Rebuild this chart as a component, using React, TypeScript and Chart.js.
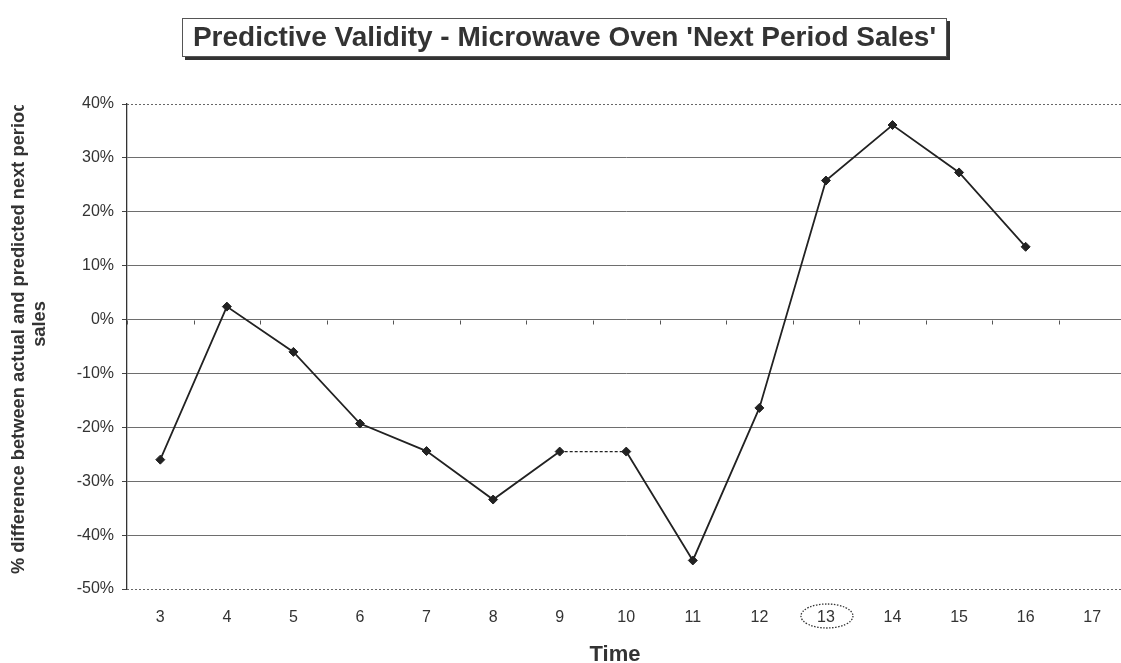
import React, { useEffect, useRef } from 'react';
import { Chart, registerables } from 'chart.js';

Chart.register(...registerables);

// Time periods on the category axis
const periods = ['3', '4', '5', '6', '7', '8', '9', '10', '11', '12', '13', '14', '15', '16', '17'];
// % difference between actual and predicted next-period sales (period 17 has no value)
const percentDifference = [-26.0, 2.4, -6.0, -19.3, -24.4, -33.4, -24.5, -24.5, -44.7, -16.4, 25.8, 36.1, 27.3, 13.5, null];
// value axis range and step, in percent
const yMin = -50;
const yMax = 40;
const yStep = 10;

const chartTitle = "Predictive Validity - Microwave Oven 'Next Period Sales'";
const yTitleLines = ['% difference between actual and predicted next period', 'sales'];
const xTitle = 'Time';
const circledPeriod = '13';

const FONT = '"Liberation Sans", Arial, sans-serif';

const decorations = {
  id: 'decorations',
  afterDraw(chart: any) {
    const { ctx, chartArea, scales } = chart;
    const x = scales.x;
    const y = scales.y;

    ctx.save();
    // dotted plot-area border at top and bottom
    ctx.strokeStyle = '#666';
    ctx.lineWidth = 1;
    ctx.setLineDash([2, 2]);
    for (const v of [yMax, yMin]) {
      const py = Math.round(y.getPixelForValue(v)) + 0.5;
      ctx.beginPath();
      ctx.moveTo(chartArea.left, py);
      ctx.lineTo(chartArea.right, py);
      ctx.stroke();
    }
    ctx.setLineDash([]);

    // category tick marks hanging below the 0% line
    const y0 = Math.round(y.getPixelForValue(0)) + 0.5;
    const step = x.getPixelForValue(1) - x.getPixelForValue(0);
    ctx.strokeStyle = '#555';
    for (let i = 0; i <= periods.length; i++) {
      const px = Math.round(x.getPixelForValue(0) - step / 2 + i * step) + 0.5;
      ctx.beginPath();
      ctx.moveTo(px, y0);
      ctx.lineTo(px, y0 + 4);
      ctx.stroke();
    }

    // chart title in a box with a drop shadow
    const bx = 182, by = 18, bw = 765, bh = 39;
    ctx.fillStyle = '#333';
    ctx.fillRect(bx + 3, by + 3, bw, bh);
    ctx.fillStyle = '#fff';
    ctx.fillRect(bx, by, bw, bh);
    ctx.strokeStyle = '#555';
    ctx.lineWidth = 1;
    ctx.strokeRect(bx + 0.5, by + 0.5, bw - 1, bh - 1);
    ctx.fillStyle = '#333';
    ctx.font = `bold 28px ${FONT}`;
    ctx.textAlign = 'center';
    ctx.textBaseline = 'middle';
    ctx.fillText(chartTitle, bx + bw / 2, by + bh / 2 + 1);

    // rotated value-axis title, clipped at the top of the plot
    ctx.save();
    ctx.beginPath();
    ctx.rect(0, 105, 60, 560);
    ctx.clip();
    ctx.font = `bold 18.3px ${FONT}`;
    ctx.fillStyle = '#333';
    ctx.translate(19, 574);
    ctx.rotate(-Math.PI / 2);
    ctx.textAlign = 'left';
    ctx.textBaseline = 'middle';
    ctx.fillText(yTitleLines[0], 0, 0);
    ctx.restore();
    ctx.save();
    ctx.font = `bold 18.3px ${FONT}`;
    ctx.fillStyle = '#333';
    ctx.translate(40, 324);
    ctx.rotate(-Math.PI / 2);
    ctx.textAlign = 'center';
    ctx.textBaseline = 'middle';
    ctx.fillText(yTitleLines[1], 0, 0);
    ctx.restore();

    // category-axis title
    ctx.font = `bold 22px ${FONT}`;
    ctx.fillStyle = '#333';
    ctx.textAlign = 'center';
    ctx.textBaseline = 'alphabetic';
    ctx.fillText(xTitle, 615, 661);

    // dotted ellipse around one category label
    const ci = periods.indexOf(circledPeriod);
    const cx = x.getPixelForValue(ci);
    ctx.strokeStyle = '#333';
    ctx.lineWidth = 1.3;
    ctx.setLineDash([1.5, 1.5]);
    ctx.beginPath();
    ctx.ellipse(cx + 1, 616, 26, 12, 0, 0, Math.PI * 2);
    ctx.stroke();
    ctx.restore();
  },
};

export default function App() {
  const canvasRef = useRef<HTMLCanvasElement | null>(null);

  useEffect(() => {
    const canvas = canvasRef.current;
    if (!canvas) return;
    const chart = new Chart(canvas, {
      type: 'line',
      data: {
        labels: periods,
        datasets: [
          {
            data: percentDifference,
            borderColor: '#222',
            borderWidth: 1.8,
            backgroundColor: '#222',
            pointStyle: 'rectRot',
            pointRadius: 4.5,
            pointBackgroundColor: '#222',
            pointBorderColor: '#222',
            pointBorderWidth: 1,
            tension: 0,
            spanGaps: false,
            segment: {
              borderDash: (c: any) => (c.p0.parsed.y === c.p1.parsed.y ? [3, 2] : undefined),
              borderWidth: (c: any) => (c.p0.parsed.y === c.p1.parsed.y ? 1.1 : undefined),
            },
          },
        ],
      },
      options: {
        responsive: false,
        devicePixelRatio: 1,
        animation: false,
        layout: { padding: { top: 104, left: 0, right: 0, bottom: 0 } },
        plugins: {
          legend: { display: false },
          title: { display: false },
          tooltip: { enabled: false },
        },
        scales: {
          x: {
            type: 'category',
            offset: true,
            grid: { display: false, drawTicks: false },
            border: { display: false },
            ticks: {
              color: '#333',
              font: { family: FONT, size: 16 },
              padding: 19,
              maxRotation: 0,
              autoSkip: false,
            },
            afterFit: (s: any) => {
              s.height = 74;
            },
          },
          y: {
            min: yMin,
            max: yMax,
            ticks: {
              stepSize: yStep,
              color: '#333',
              font: { family: FONT, size: 16 },
              padding: 8,
              callback: (v: any) => `${v}%`,
            },
            grid: {
              color: (c: any) => (c.tick && (c.tick.value === yMax || c.tick.value === yMin) ? 'rgba(0,0,0,0)' : '#6e6e6e'),
              lineWidth: 1,
              tickColor: '#444',
              tickLength: 5,
              drawTicks: true,
            },
            border: { display: true, color: '#333', width: 1.3 },
            afterFit: (s: any) => {
              s.width = 127;
            },
          },
        },
      },
      plugins: [decorations],
    });
    return () => chart.destroy();
  }, []);

  return (
    <div
      style={{
        position: 'fixed',
        left: 0,
        top: 0,
        width: 1121,
        height: 663,
        overflow: 'hidden',
        background: '#fff',
      }}
    >
      <canvas ref={canvasRef} width={1131} height={663} style={{ display: 'block', width: 1131, height: 663 }} />
    </div>
  );
}
